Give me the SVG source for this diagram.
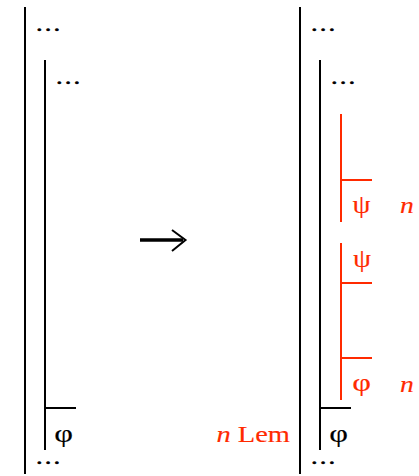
<svg xmlns="http://www.w3.org/2000/svg" width="419" height="476" viewBox="0 0 419 476">
<style>
.k{stroke:#000;stroke-width:2;fill:none}
.r{stroke:#ff2a00;stroke-width:2;fill:none}
.t{font-family:"Liberation Serif","Times New Roman",serif;font-size:23px;stroke-width:0.15}
.g{font-family:"Liberation Serif","Times New Roman",serif;font-size:25px;stroke-width:0.15}
.d{font-family:"Liberation Serif","Times New Roman",serif;font-size:22px;stroke-width:0.6}
.red{fill:#ff2a00;stroke:#ff2a00}
.blk{fill:#000;stroke:#000}
</style>
<rect width="419" height="476" fill="#fff"/>
<g id="left">
<line class="k" x1="25" y1="7" x2="25" y2="474"/>
<line class="k" x1="45" y1="60" x2="45" y2="450"/>
<line class="k" x1="45" y1="408" x2="76" y2="408"/>
<text class="d blk" text-anchor="middle" transform="translate(48,31) scale(1.19,1)">…</text>
<text class="d blk" text-anchor="middle" transform="translate(68,84) scale(1.19,1)">…</text>
<text class="d blk" text-anchor="middle" transform="translate(48,464) scale(1.19,1)">…</text>
<text class="g blk" text-anchor="middle" transform="translate(63.5,442) scale(1.3,1)">φ</text>
</g>
<g id="arrow">
<path d="M140 240 H183" stroke="#000" stroke-width="3.5" fill="none"/>
<path d="M172 230 L185.5 240 L172 251" stroke="#000" stroke-width="2" fill="none"/>
</g>
<g id="right">
<line class="k" x1="300" y1="7" x2="300" y2="474"/>
<line class="k" x1="320" y1="60" x2="320" y2="450"/>
<line class="k" x1="320" y1="408" x2="351" y2="408"/>
<text class="d blk" text-anchor="middle" transform="translate(323,31) scale(1.19,1)">…</text>
<text class="d blk" text-anchor="middle" transform="translate(343,84) scale(1.19,1)">…</text>
<text class="d blk" text-anchor="middle" transform="translate(323,464) scale(1.19,1)">…</text>
<text class="g blk" text-anchor="middle" transform="translate(338.5,442) scale(1.3,1)">φ</text>
</g>
<g id="lemma">
<line class="r" x1="341" y1="114" x2="341" y2="222"/>
<line class="r" x1="341" y1="180" x2="372" y2="180"/>
<line class="r" x1="341" y1="243" x2="341" y2="400"/>
<line class="r" x1="341" y1="283" x2="372" y2="283"/>
<line class="r" x1="341" y1="358" x2="372" y2="358"/>
<text class="g red" text-anchor="middle" transform="translate(361.5,213) scale(1.15,1)">ψ</text>
<text class="g red" text-anchor="middle" transform="translate(362,267) scale(1.15,1)">ψ</text>
<text class="g red" text-anchor="middle" transform="translate(361.5,391) scale(1.3,1)">φ</text>
<text class="t red" font-style="italic" text-anchor="middle" transform="translate(407,213) scale(1.2,1)">n</text>
<text class="t red" font-style="italic" text-anchor="middle" transform="translate(407,392) scale(1.2,1)">n</text>
<text class="t red" text-anchor="end" transform="translate(290,442) scale(1.24,1)"><tspan font-style="italic">n</tspan> Lem</text>
</g>
</svg>
